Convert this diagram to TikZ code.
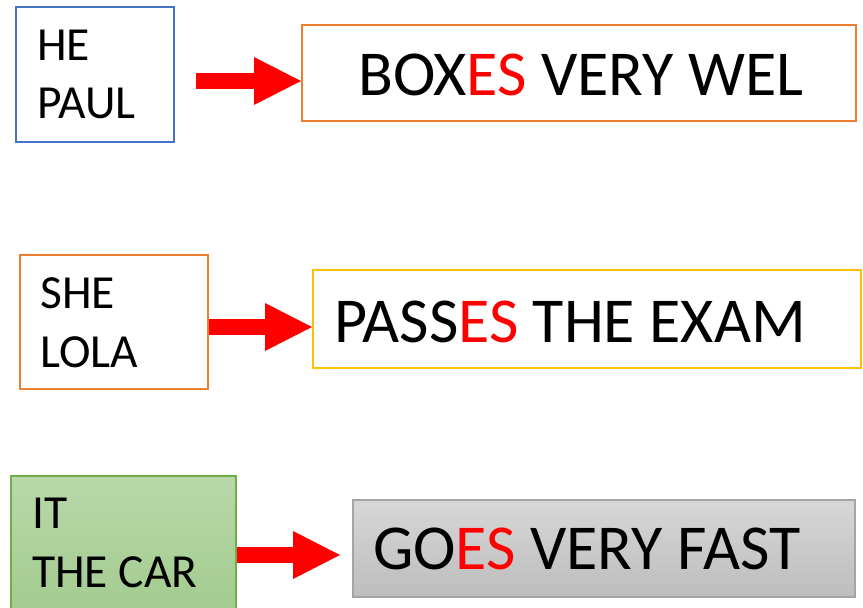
\documentclass[tikz,border=0pt]{standalone}
\usepackage{fontspec}
\setmainfont{Carlito}
\usetikzlibrary{arrows.meta}
\definecolor{cblue}{HTML}{4472C4}
\definecolor{corange}{HTML}{ED7D31}
\definecolor{cyellow}{HTML}{FFC000}
\definecolor{cgreenT}{HTML}{B8D8AA}
\definecolor{cgreenB}{HTML}{9FC98A}
\definecolor{cgreenL}{HTML}{70AD47}
\definecolor{cgrayT}{HTML}{D7D7D7}
\definecolor{cgrayB}{HTML}{BDBDBD}
\definecolor{cgrayL}{HTML}{A5A5A5}
\definecolor{cred}{HTML}{FF0000}
\tikzset{
  box/.style={draw, line width=2pt, inner sep=0pt, anchor=north west},
  small/.style={anchor=base west, inner sep=0pt, font=\fontsize{47.5}{57}\selectfont},
  big/.style={anchor=base west, inner sep=0pt, font=\fontsize{64}{77}\selectfont},
  bigarrow/.style={draw=cred, line width=16pt,
    -{Triangle[length=47pt,width=48pt,line width=0pt]}},
}
\newcommand{\es}{\textcolor{cred}{ES}}
\begin{document}
\begin{tikzpicture}[x=1pt,y=-1pt]
\useasboundingbox (0,0) rectangle (863,608);
% boxes
\node[box, draw=cblue, minimum width=158pt, minimum height=135pt] (b1) at (15,6) {};
\node[box, draw=corange, minimum width=554pt, minimum height=96pt] (b2) at (301,24) {};
\node[box, draw=corange, minimum width=188pt, minimum height=134pt] (b3) at (19,254) {};
\node[box, draw=cyellow, minimum width=548pt, minimum height=98pt] (b4) at (312,269) {};
\node[box, draw=cgreenL, top color=cgreenT, bottom color=cgreenB, minimum width=225pt, minimum height=160pt] (b5) at (10,475) {};
\node[box, draw=cgrayL, top color=cgrayT, bottom color=cgrayB, minimum width=502pt, minimum height=97pt] (b6) at (352,499) {};
% texts
\node[small] (t1a) at (37,60) {HE};
\node[small] (t1b) at (37,118) {PAUL};
\node[small] (t3a) at (40,308) {SHE};
\node[small] (t3b) at (40,367) {LOLA};
\node[small] (t5a) at (32,528) {IT};
\node[small] (t5b) at (32,587) {THE CAR};
\node[big] (t2) at (358,95) {BOX\es{} VERY WEL};
\node[big] (t4) at (334,342) {PASS\es{} THE EXAM};
\node[big] (t6) at (373,569) {GO\es{} VERY FAST};
% arrows
\coordinate (a1s) at (196,81);
\coordinate (a2s) at (0,327);
\coordinate (a3s) at (0,555);
\draw[bigarrow] (a1s) -- (b2.west |- a1s);
\draw[bigarrow] (b3.east |- a2s) -- (b4.west |- a2s);
\draw[bigarrow, shorten >=12pt] (b5.east |- a3s) -- (b6.west |- a3s);
\end{tikzpicture}
\end{document}
